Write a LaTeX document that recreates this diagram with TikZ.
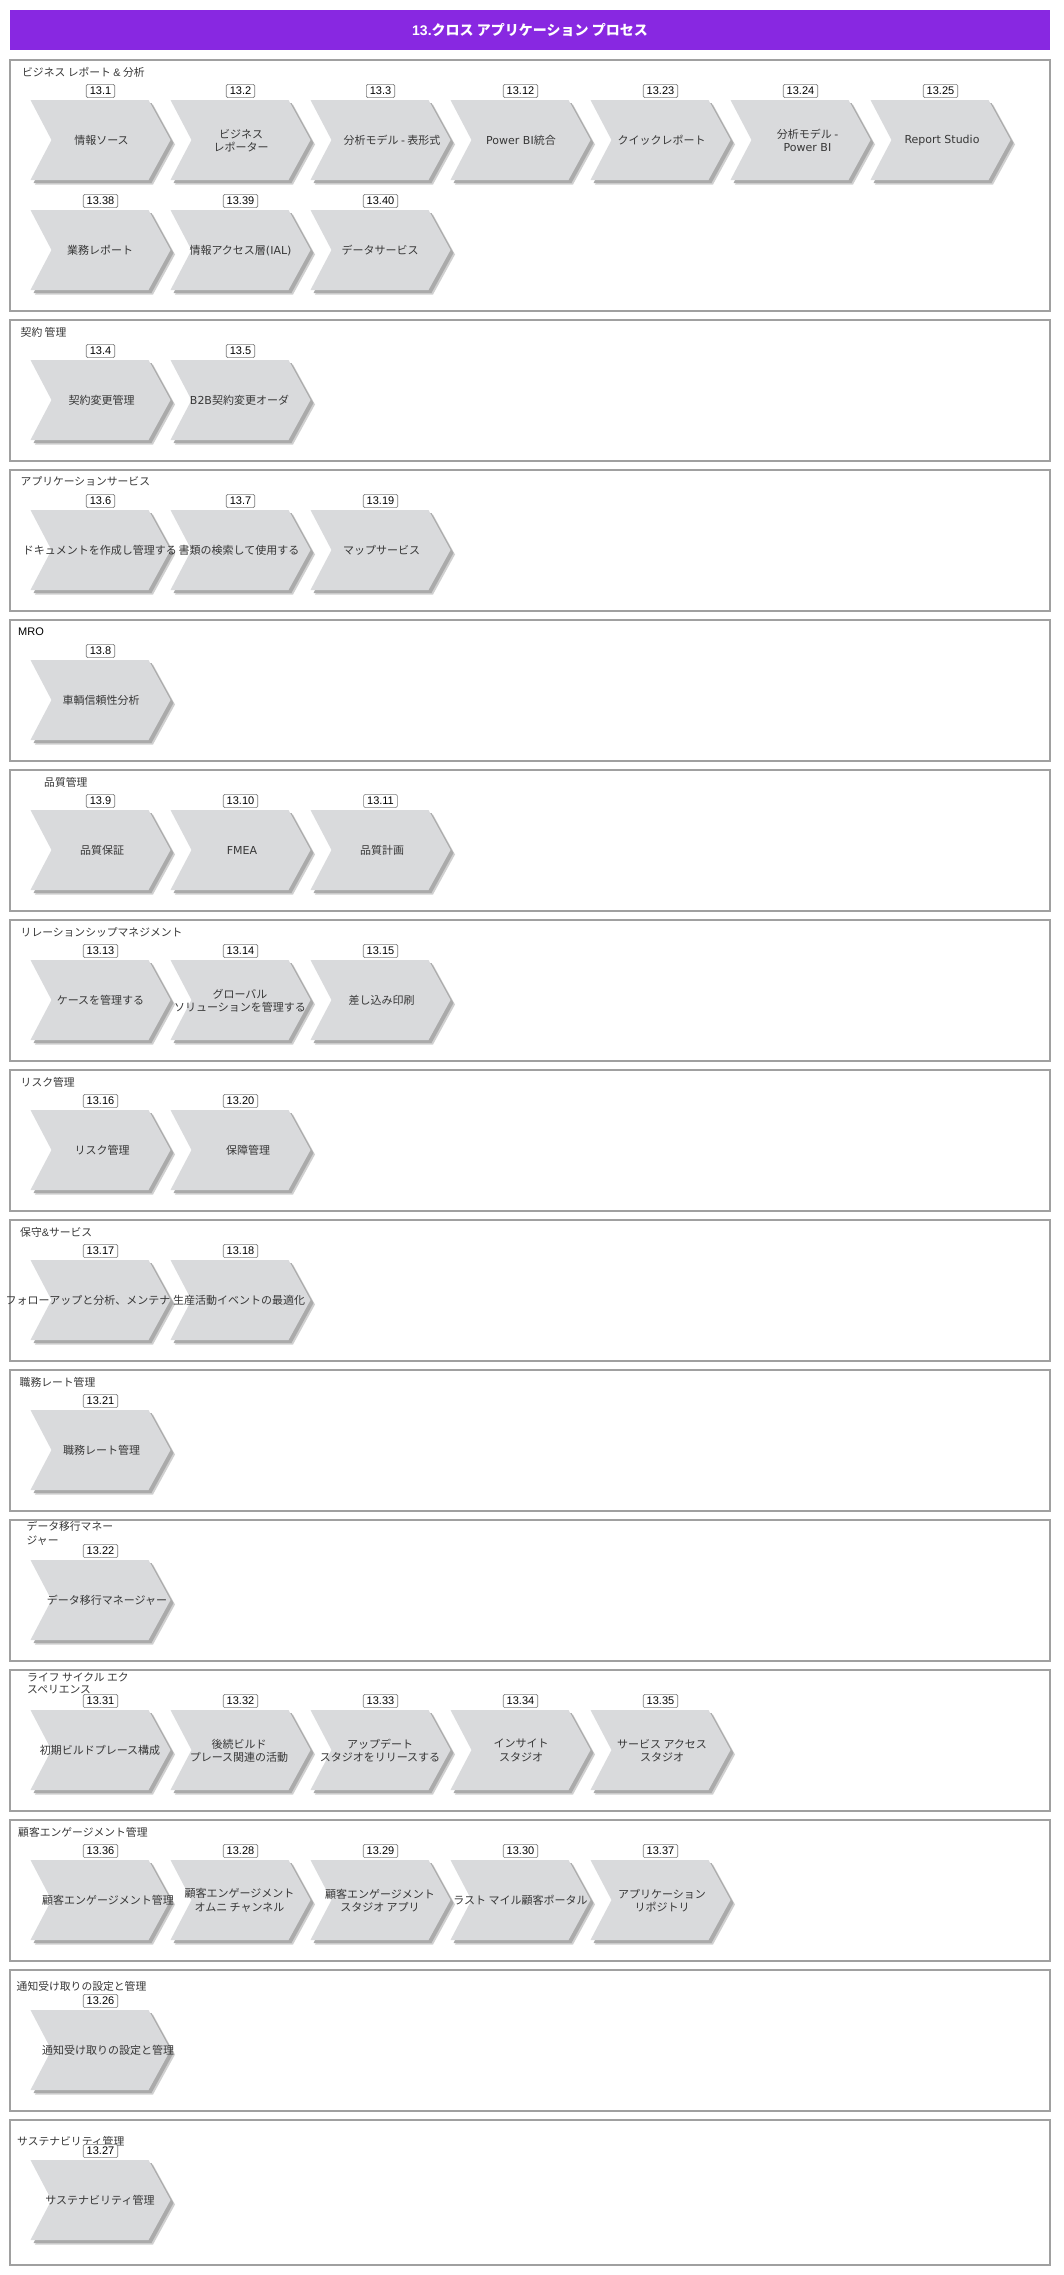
\documentclass[tikz,border=0pt]{standalone}
\usepackage{fontspec}
\setmainfont{Noto Sans CJK JP}
\newfontfamily\lat{DejaVu Sans}
\newfontfamily\ari{Liberation Sans}
\definecolor{barc}{RGB}{136,40,225}
\definecolor{chevc}{RGB}{217,218,220}
\definecolor{shA}{RGB}{170,170,170}
\definecolor{shB}{RGB}{208,208,208}
\definecolor{boxc}{RGB}{160,160,160}
\definecolor{txtc}{RGB}{55,55,55}
\definecolor{labc}{RGB}{125,125,125}
\tikzset{
  secbox/.style={draw=boxc, line width=2pt, fill=white, inner sep=0pt, outer sep=0pt, anchor=north west, minimum width=1040pt},
  sectitle/.style={anchor=west, inner sep=0pt, text=txtc, align=left, font=\fontsize{10.8}{12}\selectfont},
  numbox/.style={draw=labc, fill=white, rounded corners=1.5pt, line width=0.6pt, inner xsep=3.5pt, inner ysep=0pt, minimum height=13.3pt, font=\ari\fontsize{11}{12}\selectfont, text=black},
  chevtext/.style={inner sep=0pt, text=txtc, align=center, font=\fontsize{11}{13.3}\selectfont},
  chevbox/.style={inner sep=0pt, minimum width=140pt, minimum height=80pt},
  titlebar/.style={fill=barc, minimum width=1040pt, minimum height=40pt, anchor=north west, inner sep=0pt, outer sep=0pt, text=white, font=\bfseries\fontsize{14}{16}\selectfont}
}
% #1 name, #2 left x, #3 top y, #4 number, #5 text centre x, #6 text
\newcommand\chev[6]{%
  \begin{scope}[shift={(#2,#3)}]
    \fill[shB] (4.5,4.5) -- ++(118,0) -- ++(22,40) -- ++(-22,40) -- ++(-118,0) -- ++(21,-40) -- cycle;
    \fill[shA] (3,3) -- ++(118,0) -- ++(22,40) -- ++(-22,40) -- ++(-118,0) -- ++(21,-40) -- cycle;
    \fill[chevc] (0,0) -- ++(118,0) -- ++(22,40) -- ++(-22,40) -- ++(-118,0) -- ++(21,-40) -- cycle;
    \node[chevbox] (#1) at (70,40) {};
    \node[numbox] (#1-n) at (70,-9) {#4};
  \end{scope}
  \node[chevtext] (#1-t) at (#5,#3+40.5) {#6};
}
\begin{document}
\begin{tikzpicture}[x=1pt,y=-1pt]
\useasboundingbox (0,0) rectangle (1064,2275);
\fill[white] (0,0) rectangle (1064,2275);

\node[titlebar] (title) at (10,10) {{\ari 13.}クロス アプリケーション プロセス};

% containers
\node[secbox, minimum height=251pt] (s1) at (10,60) {};
\node[secbox, minimum height=140.5pt] (s2) at (10,320) {};
\node[secbox, minimum height=140.5pt] (s3) at (10,470) {};
\node[secbox, minimum height=140.5pt] (s4) at (10,620) {};
\node[secbox, minimum height=140.5pt] (s5) at (10,770) {};
\node[secbox, minimum height=140.5pt] (s6) at (10,920) {};
\node[secbox, minimum height=140.5pt] (s7) at (10,1070) {};
\node[secbox, minimum height=140.5pt] (s8) at (10,1220) {};
\node[secbox, minimum height=140.5pt] (s9) at (10,1370) {};
\node[secbox, minimum height=140.5pt] (s10) at (10,1520) {};
\node[secbox, minimum height=140.5pt] (s11) at (10,1670) {};
\node[secbox, minimum height=140.5pt] (s12) at (10,1820) {};
\node[secbox, minimum height=140.5pt] (s13) at (10,1970) {};
\node[secbox, minimum height=145pt] (s14) at (10,2120) {};

% section titles
\node[sectitle] (s1-t) at (22,72) {ビジネス レポート {\ari\&} 分析};
\node[sectitle] (s2-t) at (20.5,332) {契約 管理};
\node[sectitle] (s3-t) at (20.5,481.5) {アプリケーションサービス};
\node[sectitle, text=black, font=\ari\fontsize{11}{12}\selectfont] (s4-t) at (18,631.5) {MRO};
\node[sectitle] (s5-t) at (44,782) {品質管理};
\node[sectitle] (s6-t) at (20.5,932) {リレーションシップマネジメント};
\node[sectitle] (s7-t) at (20.5,1082) {リスク管理};
\node[sectitle] (s8-t) at (20,1232) {保守{\ari\&}サービス};
\node[sectitle] (s9-t) at (19.5,1382.5) {職務レート管理};
\node[sectitle, font=\fontsize{10.8}{14}\selectfont] (s10-t) at (26.5,1533.7) {データ移行マネー\\ジャー};
\node[sectitle, font=\fontsize{10.8}{12}\selectfont] (s11-t) at (27,1683.3) {ライフ サイクル エク\\スペリエンス};
\node[sectitle] (s12-t) at (18,1832) {顧客エンゲージメント管理};
\node[sectitle] (s13-t) at (16.5,1986) {通知受け取りの設定と管理};
\node[sectitle] (s14-t) at (17,2141.5) {サステナビリティ管理};

% S1
\chev{c13-1}{30.5}{100}{13.1}{101.5}{情報ソース}
\chev{c13-2}{170.5}{100}{13.2}{241}{ビジネス\\レポーター}
\chev{c13-3}{310.5}{100}{13.3}{392}{分析モデル {\lat -} 表形式}
\chev{c13-12}{450.5}{100}{13.12}{521}{{\lat Power BI}統合}
\chev{c13-23}{590.5}{100}{13.23}{661.5}{クイックレポート}
\chev{c13-24}{730.5}{100}{13.24}{807.5}{分析モデル {\lat -}\\{\lat Power BI}}
\chev{c13-25}{870.5}{100}{13.25}{942}{{\lat Report Studio}}
\chev{c13-38}{30.5}{210}{13.38}{100}{業務レポート}
\chev{c13-39}{170.5}{210}{13.39}{240.5}{情報アクセス層{\lat (IAL)}}
\chev{c13-40}{310.5}{210}{13.40}{380}{データサービス}
% S2
\chev{c13-4}{30.5}{360}{13.4}{101.5}{契約変更管理}
\chev{c13-5}{170.5}{360}{13.5}{239.5}{{\lat B2B}契約変更オーダ}
% S3
\chev{c13-6}{30.5}{510}{13.6}{100}{ドキュメントを作成し管理する}
\chev{c13-7}{170.5}{510}{13.7}{239}{書類の検索して使用する}
\chev{c13-19}{310.5}{510}{13.19}{381.5}{マップサービス}
% S4
\chev{c13-8}{30.5}{660}{13.8}{101}{車輌信頼性分析}
% S5
\chev{c13-9}{30.5}{810}{13.9}{102}{品質保証}
\chev{c13-10}{170.5}{810}{13.10}{242}{{\lat FMEA}}
\chev{c13-11}{310.5}{810}{13.11}{382}{品質計画}
% S6
\chev{c13-13}{30.5}{960}{13.13}{100.5}{ケースを管理する}
\chev{c13-14}{170.5}{960}{13.14}{240}{グローバル\\ソリューションを管理する}
\chev{c13-15}{310.5}{960}{13.15}{381.5}{差し込み印刷}
% S7
\chev{c13-16}{30.5}{1110}{13.16}{102}{リスク管理}
\chev{c13-20}{170.5}{1110}{13.20}{248}{保障管理}
% S8
\chev{c13-17}{30.5}{1260}{13.17}{88}{フォローアップと分析、メンテナ}
\chev{c13-18}{170.5}{1260}{13.18}{239}{生産活動イベントの最適化}
% S9
\chev{c13-21}{30.5}{1410}{13.21}{101.5}{職務レート管理}
% S10
\chev{c13-22}{30.5}{1560}{13.22}{107}{データ移行マネージャー}
% S11
\chev{c13-31}{30.5}{1710}{13.31}{100}{初期ビルドプレース構成}
\chev{c13-32}{170.5}{1710}{13.32}{239}{後続ビルド\\プレース関連の活動}
\chev{c13-33}{310.5}{1710}{13.33}{380}{アップデート\\スタジオをリリースする}
\chev{c13-34}{450.5}{1710}{13.34}{521}{インサイト\\スタジオ}
\chev{c13-35}{590.5}{1710}{13.35}{662}{サービス アクセス\\スタジオ}
% S12
\chev{c13-36}{30.5}{1860}{13.36}{108}{顧客エンゲージメント管理}
\chev{c13-28}{170.5}{1860}{13.28}{239.5}{顧客エンゲージメント\\オムニ チャンネル}
\chev{c13-29}{310.5}{1860}{13.29}{380}{顧客エンゲージメント\\スタジオ アプリ}
\chev{c13-30}{450.5}{1860}{13.30}{520.5}{ラスト マイル顧客ポータル}
\chev{c13-37}{590.5}{1860}{13.37}{662}{アプリケーション\\リポジトリ}
% S13
\chev{c13-26}{30.5}{2010}{13.26}{108}{通知受け取りの設定と管理}
% S14
\chev{c13-27}{30.5}{2160}{13.27}{100}{サステナビリティ管理}
\end{tikzpicture}
\end{document}
